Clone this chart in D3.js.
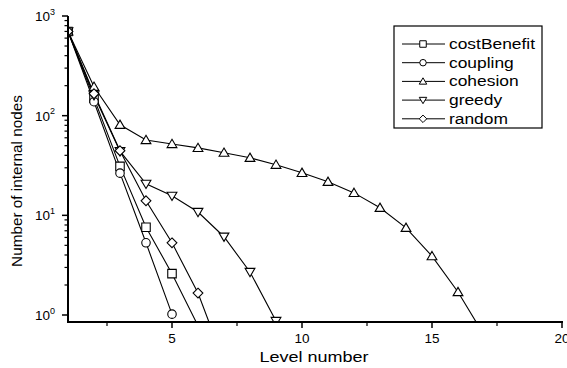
<!DOCTYPE html>
<html><head><meta charset="utf-8">
<script src="https://cdn.jsdelivr.net/npm/d3@7"></script>
<style>body{margin:0;background:#fff}svg{display:block;font-family:"Liberation Sans",Arial,sans-serif}</style>
</head><body><svg id="c" width="567" height="368"></svg>
<script>
const levels = [1,2,3,4,5,6,7,8,9,10,11,12,13,14,15,16,17];
const costBenefit = [700, 150, 31, 7.6, 2.6, 0.78];
const coupling = [700, 138, 26.5, 5.3, 1.02];
const cohesion = [700, 195, 81, 57, 52, 47.5, 42.5, 37.8, 32.2, 26.7, 21.7, 16.8, 11.9, 7.5, 3.9, 1.7, 0.63];
const greedy = [700, 160, 44, 20.7, 15.7, 10.8, 6.1, 2.7, 0.87];
const random = [700, 166, 44.5, 14, 5.3, 1.66, 0.34];
const seriesNames = ["costBenefit","coupling","cohesion","greedy","random"];
const seriesSymbols = ["square","circle","up","down","diamond"];
const seriesValues = [costBenefit, coupling, cohesion, greedy, random];
const xTicks = [5,10,15,20];
const xMinorTicks = [2.5,7.5,12.5,17.5];
const yExps = [0,1,2,3];

const svg = d3.select("#c");
const L = 68, R = 562, B = 322, T = 16;
const x = d3.scaleLinear().domain([1,20]).range([L,R]);
const y = d3.scaleLog().domain([1,1000]).range([315,16]);

svg.append("defs").append("clipPath").attr("id","clip")
  .append("rect").attr("x",L).attr("y",0).attr("width",R-L+6).attr("height",B);

function symPath(kind, cx, cy, s){
  const h = s/2;
  if(kind==="square") return `M${cx-h},${cy-h}h${s}v${s}h${-s}Z`;
  if(kind==="circle") return `M${cx-h},${cy}a${h},${h} 0 1,0 ${s},0a${h},${h} 0 1,0 ${-s},0Z`;
  if(kind==="up") return `M${cx},${cy-h*1.1}L${cx+h*1.15},${cy+h*0.85}L${cx-h*1.15},${cy+h*0.85}Z`;
  if(kind==="down") return `M${cx},${cy+h*1.1}L${cx+h*1.15},${cy-h*0.85}L${cx-h*1.15},${cy-h*0.85}Z`;
  if(kind==="diamond") return `M${cx},${cy-h*1.15}L${cx+h*1.15},${cy}L${cx},${cy+h*1.15}L${cx-h*1.15},${cy}Z`;
}

const plot = svg.append("g").attr("clip-path","url(#clip)");
const line = d3.line().x((d,i)=>x(levels[i])).y(d=>y(d));
seriesValues.forEach((vals,si)=>{
  plot.append("path").attr("d",line(vals)).attr("fill","none").attr("stroke","#000").attr("stroke-width",1.1);
});
seriesValues.forEach((vals,si)=>{
  plot.selectAll(null).data(vals).enter().append("path")
    .attr("d",(d,i)=>symPath(seriesSymbols[si], x(levels[i]), y(d), 8.5))
    .attr("fill","#fff").attr("stroke","#000").attr("stroke-width",1.1);
});

// axes
const ax = svg.append("g").attr("stroke","#000");
ax.append("line").attr("x1",L).attr("x2",L).attr("y1",T).attr("y2",B+1).attr("stroke-width",2);
ax.append("line").attr("x1",L-1).attr("x2",R+1).attr("y1",B).attr("y2",B).attr("stroke-width",2);
yExps.forEach(e=>{
  const v = Math.pow(10,e);
  ax.append("line").attr("x1",L-6).attr("x2",L).attr("y1",y(v)).attr("y2",y(v)).attr("stroke-width",1.5);
  if(e<3){
    for(let k=2;k<=9;k++){
      const yy = y(k*v);
      ax.append("line").attr("x1",L-3.5).attr("x2",L).attr("y1",yy).attr("y2",yy).attr("stroke-width",1.2);
    }
  }
  const t = svg.append("text").attr("x",L-13).attr("y",y(v)+5).attr("text-anchor","end")
    .attr("font-size",13.5).attr("fill","#000");
  t.append("tspan").text("10");
  t.append("tspan").attr("font-size",9).attr("dy",-6.5).text(e);
});
xTicks.forEach(v=>{
  ax.append("line").attr("x1",x(v)).attr("x2",x(v)).attr("y1",B).attr("y2",B+6).attr("stroke-width",1.5);
  svg.append("text").attr("x",x(v)).attr("y",B+21).attr("text-anchor","middle").attr("font-size",13.5).text(v);
});
xMinorTicks.forEach(v=>{
  ax.append("line").attr("x1",x(v)).attr("x2",x(v)).attr("y1",B).attr("y2",B+4).attr("stroke-width",1.2);
});

svg.append("text").attr("transform","translate(314,362) scale(1.2,1)").attr("text-anchor","middle").attr("font-size",15).text("Level number");
svg.append("text").attr("transform","translate(22,181) rotate(-90)").attr("text-anchor","middle").attr("font-size",15.3).text("Number of internal nodes");

const lg = svg.append("g");
lg.append("rect").attr("x",394).attr("y",26).attr("width",148).attr("height",102).attr("fill","#fff").attr("stroke","#000").attr("stroke-width",1.2);
seriesNames.forEach((n,i)=>{
  const yy = 44 + i*18.7;
  lg.append("line").attr("x1",402).attr("x2",445).attr("y1",yy).attr("y2",yy).attr("stroke","#000").attr("stroke-width",1);
  lg.append("path").attr("d",symPath(seriesSymbols[i],423,yy,6.5)).attr("fill","#fff").attr("stroke","#000").attr("stroke-width",1);
  lg.append("text").attr("transform",`translate(449,${yy+5}) scale(1.2,1)`).attr("font-size",14.5).text(n);
});
</script></body></html>
